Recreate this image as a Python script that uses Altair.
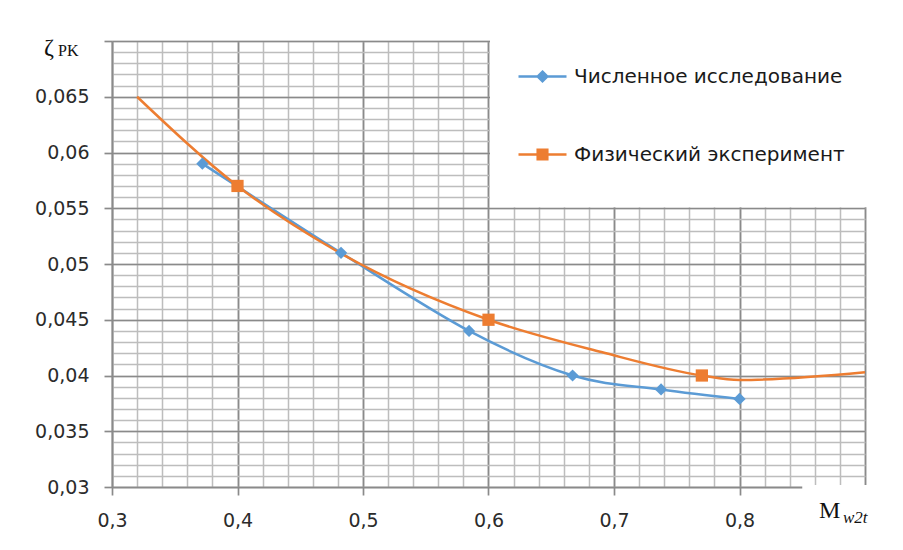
import altair as alt
import pandas as pd

# ---- data ----
series = ["Численное исследование", "Физический эксперимент"]
colors = ["#5B9BD5", "#ED7D31"]

num_x = [0.372, 0.4825, 0.5845, 0.667, 0.7375, 0.8]
num_y = [0.059, 0.051, 0.044, 0.040, 0.03875, 0.0379]

exp_line_x = [0.32, 0.4, 0.48, 0.6, 0.69, 0.77, 0.8, 0.9]
exp_line_y = [0.065, 0.057, 0.0511, 0.045, 0.0421, 0.040, 0.0396, 0.0403]
exp_mark_x = [0.4, 0.6, 0.77]
exp_mark_y = [0.057, 0.045, 0.040]

x_major = [0.3, 0.4, 0.5, 0.6, 0.7, 0.8, 0.9]
y_major = [0.03, 0.035, 0.04, 0.045, 0.05, 0.055, 0.06, 0.065, 0.07]
x_minor = [round(0.3 + 0.02 * i, 2) for i in range(31)]
y_minor = [round(0.03 + 0.001 * i, 3) for i in range(41)]

W, H = 753, 446
MAJOR = "#8a8a8a"
MINOR = "#bdbdbd"
FONT = "DejaVu Sans"
SERIF = "Liberation Serif"

fmt = "replace(format(datum.value, '.3~f'), '.', ',')"
xs = alt.Scale(domain=[0.3, 0.9], nice=False, zero=False)
ys = alt.Scale(domain=[0.03, 0.07], nice=False, zero=False)

minor_x = alt.Axis(values=x_minor, grid=True, gridColor=MINOR, gridWidth=1.5,
                   labels=False, ticks=False, domain=False, title=None, orient="bottom")
minor_y = alt.Axis(values=y_minor, grid=True, gridColor=MINOR, gridWidth=1.5,
                   labels=False, ticks=False, domain=False, title=None, orient="left")
major_x = alt.Axis(values=x_major, grid=True, gridColor=MAJOR, gridWidth=1.7,
                   ticks=True, tickSize=8, tickColor=MAJOR, tickWidth=1.7,
                   domain=True, domainColor=MAJOR, domainWidth=1.7,
                   labelExpr="datum.value > 0.89 ? '' : " + fmt,
                   labelFont=FONT, labelFontSize=19, labelColor="#2b2b2b",
                   labelPadding=16, title=None, orient="bottom", labelFlush=False)
major_y = alt.Axis(values=y_major, grid=True, gridColor=MAJOR, gridWidth=1.7,
                   ticks=True, tickSize=8, tickColor=MAJOR, tickWidth=1.7,
                   domain=True, domainColor=MAJOR, domainWidth=1.7,
                   labelExpr="datum.value > 0.0695 ? '' : " + fmt,
                   labelFont=FONT, labelFontSize=19, labelColor="#2b2b2b",
                   labelPadding=15, title=None, orient="left", labelFlush=False)

df_num = pd.DataFrame({"x": num_x, "y": num_y})
df_exp_line = pd.DataFrame({"x": exp_line_x, "y": exp_line_y})
df_exp_mark = pd.DataFrame({"x": exp_mark_x, "y": exp_mark_y})
one = pd.DataFrame({"a": [0]})

blue_line = alt.Chart(df_num).mark_line(color=colors[0], strokeWidth=2.5, interpolate="cardinal").encode(
    x=alt.X("x:Q", scale=xs, axis=minor_x), y=alt.Y("y:Q", scale=ys, axis=minor_y))
orange_line = alt.Chart(df_exp_line).mark_line(color=colors[1], strokeWidth=2.5, interpolate="monotone").encode(
    x=alt.X("x:Q", scale=xs, axis=major_x), y=alt.Y("y:Q", scale=ys, axis=major_y))

legend_box = alt.Chart(one).mark_rect(color="white", xOffset=1.5, yOffset=-1).encode(
    x=alt.XDatum(0.6, scale=xs, axis=None), x2=alt.value(W + 40),
    y=alt.YDatum(0.055, scale=ys, axis=None), y2=alt.value(-6))
xtitle_box = alt.Chart(one).mark_rect(color="white", yOffset=-2).encode(
    x=alt.XDatum(0.85, scale=xs, axis=None), x2=alt.value(W + 40),
    y=alt.YDatum(0.03, scale=ys, axis=None), y2=alt.value(H + 60))

blue_pts = alt.Chart(df_num).mark_point(shape="diamond", filled=True, size=150, color=colors[0], opacity=1).encode(
    x=alt.X("x:Q", scale=xs, axis=None), y=alt.Y("y:Q", scale=ys, axis=None))
orange_pts = alt.Chart(df_exp_mark).mark_point(shape="square", filled=True, size=150, color=colors[1], opacity=1).encode(
    x=alt.X("x:Q", scale=xs, axis=None), y=alt.Y("y:Q", scale=ys, axis=None))

# legend (dummy clipped layer supplies the legend entries)
sym_d = "M-1,0H1M0,-0.2L0.2,0L0,0.2L-0.2,0Z"
sym_s = "M-1,0H1M-0.2,-0.2H0.2V0.2H-0.2Z"
leg = alt.Legend(title=None, orient="none", legendX=405, legendY=10, padding=0,
                 symbolSize=2304, symbolStrokeWidth=2.5, symbolOpacity=1,
                 labelFont=FONT, labelFontSize=20, labelColor="#1a1a1a", labelOffset=6,
                 labelLimit=500, rowPadding=42)
df_leg = pd.DataFrame({"x": [0.2, 0.2], "y": [0.05, 0.05], "s": series})
legend_layer = alt.Chart(df_leg).mark_point(clip=True, opacity=1, strokeWidth=2.5).encode(
    x=alt.X("x:Q", scale=xs, axis=None), y=alt.Y("y:Q", scale=ys, axis=None),
    fill=alt.Fill("s:N", scale=alt.Scale(domain=series, range=colors), legend=leg),
    stroke=alt.Stroke("s:N", scale=alt.Scale(domain=series, range=colors), legend=leg),
    shape=alt.Shape("s:N", scale=alt.Scale(domain=series, range=[sym_d, sym_s]), legend=leg))

# axis titles
def txt(s, x, y, size, font=SERIF, style="normal"):
    return alt.Chart(one).mark_text(text=s, font=font, fontSize=size, fontStyle=style,
                                    align="left", baseline="alphabetic", color="#111111").encode(
        x=alt.value(x), y=alt.value(y))

titles = [
    txt("ζ", -68, 14, 24),
    txt("PK", -54, 15, 16),
    txt("M", 707, 477, 24),
    txt("w2t", 731, 482, 17, style="italic"),
]

chart = alt.layer(blue_line, orange_line, legend_box, xtitle_box, blue_pts, orange_pts,
                  legend_layer, *titles).resolve_axis(x="independent", y="independent").properties(
    width=W, height=H,
    padding={"left": 104, "top": 33, "right": 30, "bottom": 55},
    autosize=alt.AutoSizeParams(type="none"),
    background="white",
).configure_view(stroke=None)

chart.save("out.html", embed_options={"renderer": "svg", "actions": False})
